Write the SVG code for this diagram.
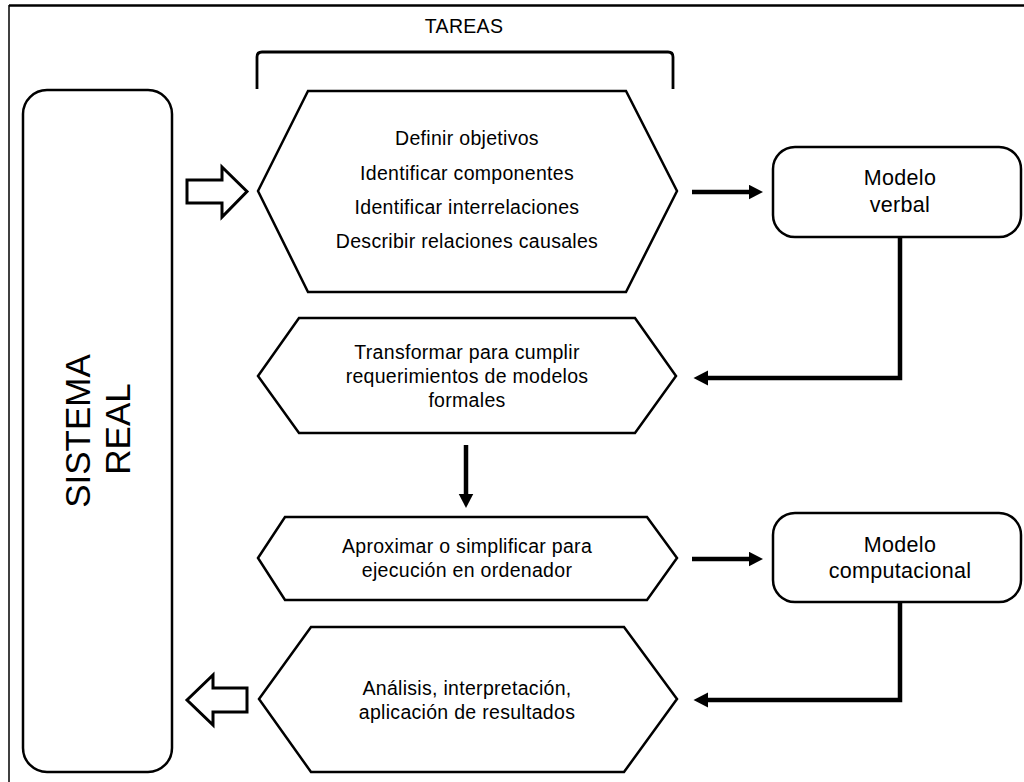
<svg xmlns="http://www.w3.org/2000/svg" width="1024" height="782" viewBox="0 0 1024 782">
<style>
.sh{fill:#fff;stroke:#000;stroke-width:2.5;stroke-linejoin:miter}
.hol{fill:#fff;stroke:#000;stroke-width:3;stroke-linejoin:miter}
.t{font-family:"Liberation Sans",Arial,sans-serif;fill:#000;text-anchor:middle}
.tx{font-size:19.5px;letter-spacing:0.3px}
.tm{font-size:21.5px;letter-spacing:0.3px}
.tb{font-size:35px}
.con{fill:none;stroke:#000;stroke-width:4.5;stroke-linejoin:miter}
</style>
<defs>
<marker id="ah" markerUnits="userSpaceOnUse" markerWidth="15" markerHeight="16" refX="0.5" refY="7.5" orient="auto">
<path d="M0,0 L14.5,7.5 L0,15 z" fill="#000"/>
</marker>
</defs>
<rect width="1024" height="782" fill="#fff"/>
<g id="frame">
<line x1="9" y1="5.5" x2="1024" y2="5.5" stroke="#000" stroke-width="2.5"/>
<line x1="9" y1="5" x2="9" y2="782" stroke="#000" stroke-width="1.5"/>
</g>
<g id="tareas">
<text class="t tx" x="464" y="33">TAREAS</text>
<path d="M257,89 V57 Q257,52 262,52 H668 Q673,52 673,57 V89" fill="none" stroke="#000" stroke-width="2.8"/>
</g>
<g id="sistema-real">
<rect class="sh" x="23" y="90" width="149" height="682" rx="24"/>
<text class="t tb" transform="translate(90,431) rotate(-90)">SISTEMA</text>
<text class="t tb" transform="translate(130,429) rotate(-90)">REAL</text>
</g>
<g id="hex1">
<polygon class="sh" points="258,191 308,91 626,91 677,191 626,292 308,292"/>
<text class="t tx" x="467" y="145">Definir objetivos</text>
<text class="t tx" x="467" y="179.5">Identificar componentes</text>
<text class="t tx" x="467" y="213.5">Identificar interrelaciones</text>
<text class="t tx" x="467" y="248">Describir relaciones causales</text>
</g>
<g id="hex2">
<polygon class="sh" points="258,376 299,318 635,318 676,376 635,433 299,433"/>
<text class="t tx" x="467" y="359">Transformar para cumplir</text>
<text class="t tx" x="467" y="383">requerimientos de modelos</text>
<text class="t tx" x="467" y="407">formales</text>
</g>
<g id="hex3">
<polygon class="sh" points="258,558 285,517 647,517 677,558 647,600 285,600"/>
<text class="t tx" x="467" y="553">Aproximar o simplificar para</text>
<text class="t tx" x="467" y="577">ejecución en ordenador</text>
</g>
<g id="hex4">
<polygon class="sh" points="259,699 311,627 624,627 677,699 624,772 311,772"/>
<text class="t tx" x="467" y="695">Análisis, interpretación,</text>
<text class="t tx" x="467" y="718.5">aplicación de resultados</text>
</g>
<g id="modelo-verbal">
<rect class="sh" x="773" y="147" width="248" height="90" rx="22"/>
<text class="t tm" x="900" y="185">Modelo</text>
<text class="t tm" x="900" y="211.5">verbal</text>
</g>
<g id="modelo-computacional">
<rect class="sh" x="773" y="513" width="248" height="89" rx="22"/>
<text class="t tm" x="900" y="552">Modelo</text>
<text class="t tm" x="900" y="578">computacional</text>
</g>
<g id="hollow-arrows">
<polygon class="hol" points="187,180 222,180 222,167 247,191.5 222,217 222,203 187,203"/>
<polygon class="hol" points="187,700 213,675 213,688 247,688 247,712 213,712 213,725"/>
</g>
<g id="connectors">
<path class="con" d="M692,192 H749" marker-end="url(#ah)"/>
<path class="con" d="M900,237 V378 H707.5" marker-end="url(#ah)"/>
<path class="con" d="M466,445 V494" marker-end="url(#ah)"/>
<path class="con" d="M692,559 H749" marker-end="url(#ah)"/>
<path class="con" d="M900,602 V700 H707.5" marker-end="url(#ah)"/>
</g>
</svg>
